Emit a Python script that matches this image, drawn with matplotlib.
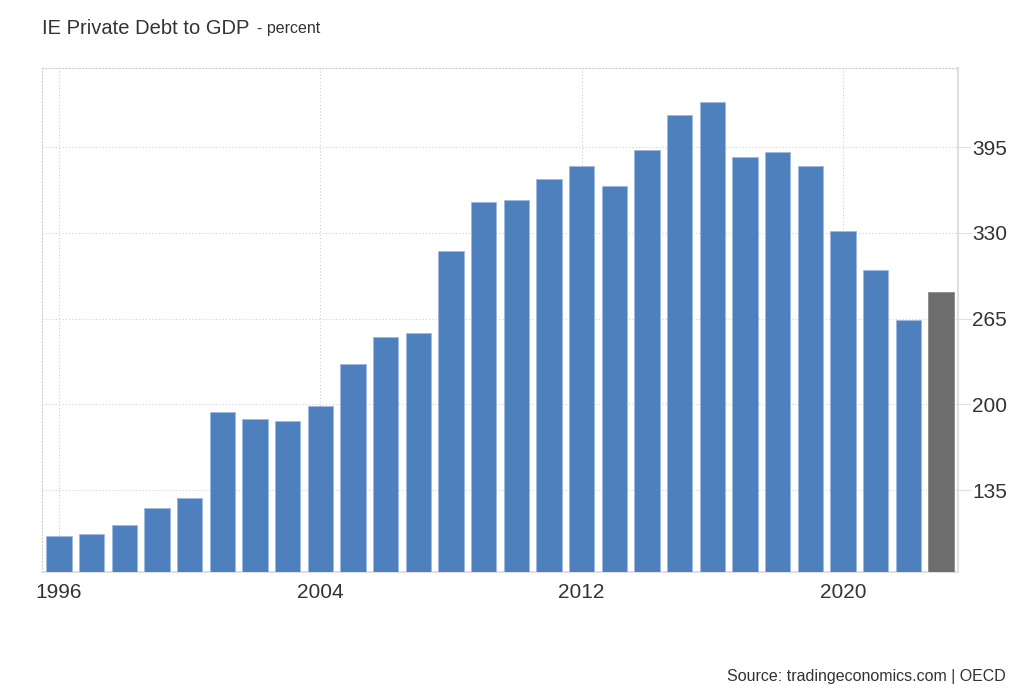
import matplotlib
matplotlib.use('Agg')
import matplotlib.pyplot as plt

years = list(range(1996, 2024))
debt = [100.2, 101.7, 108.5, 121.4, 129.0, 194.0, 188.7, 187.2, 198.5, 231.0,
        251.4, 254.4, 316.4, 353.4, 355.0, 370.8, 380.6, 365.5, 392.7, 419.0,
        429.0, 387.5, 391.3, 380.6, 331.5, 302.0, 264.3, 285.4]
y_ticks = [135, 200, 265, 330, 395]
x_ticks = [1996, 2004, 2012, 2020]

plt.rcParams['font.family'] = ['Liberation Sans', 'DejaVu Sans']

fig = plt.figure(figsize=(10.24, 7), dpi=100)
ax = fig.add_axes([42 / 1024, 128 / 700, 916 / 1024, 504 / 700])

colors = ['#4d80bc'] * (len(years) - 1) + ['#6e6e6e']
ax.bar(years, debt, width=0.78, color=colors, edgecolor='#9dbbe0', linewidth=0.6, zorder=3)
# gray bar edge
ax.patches[-1].set_edgecolor('#8a8a8a')

ax.set_xlim(1995.48, 2023.52)
ax.set_ylim(73, 455)

ax.yaxis.tick_right()
ax.set_yticks(y_ticks)
ax.set_xticks(x_ticks)
ax.tick_params(axis='y', length=9, color='#e0e0e0', labelsize=15, labelcolor='#333333', pad=1)
ax.tick_params(axis='x', length=0, labelsize=15, labelcolor='#333333', pad=8)

ax.grid(True, linestyle=(0, (1, 2)), color='#d0d0d0', linewidth=0.8, zorder=0)

for side in ['top', 'left']:
    ax.spines[side].set_linestyle((0, (1, 2)))
    ax.spines[side].set_color('#cccccc')
    ax.spines[side].set_linewidth(0.8)
for side in ['bottom', 'right']:
    ax.spines[side].set_color('#e0e0e0')
    ax.spines[side].set_linewidth(1.5)

fig.text(42 / 1024, 1 - 28 / 700, 'IE Private Debt to GDP', fontsize=14.5, color='#333333', va='center')
fig.text(257 / 1024, 1 - 29 / 700, '- percent', fontsize=11.5, color='#333333', va='center')
fig.text(1006 / 1024, 1 - 676 / 700, 'Source: tradingeconomics.com | OECD', fontsize=11.5,
         color='#333333', ha='right', va='center')

fig.savefig('out.png', dpi=100, facecolor='white')
